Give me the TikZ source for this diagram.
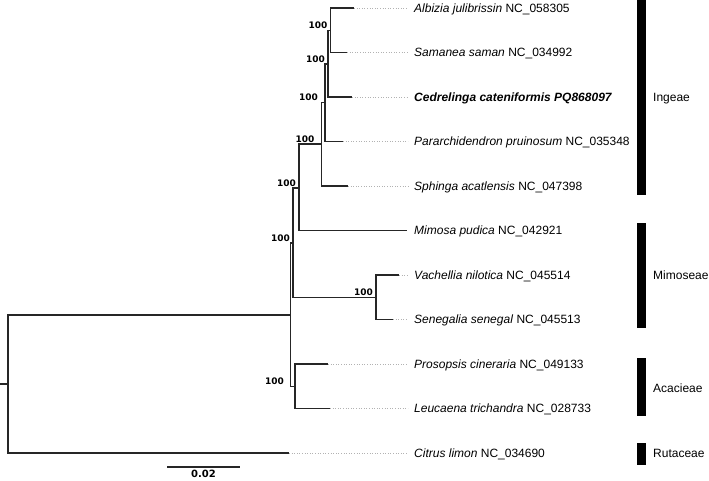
\documentclass[tikz,border=0pt]{standalone}
\usepackage{fontspec}
\setmainfont{Liberation Sans}
\newfontfamily\bootfont{DejaVu Sans}
\usepackage{tikz}

\begin{document}
\begin{tikzpicture}[x=1pt, y=-1pt, font=\fontsize{12}{14}\selectfont,
  branch/.style={draw=black!85, line width=1.3pt},
  leader/.style={draw=black!30, dotted, line width=0.6pt},
  taxon/.style={anchor=west, inner xsep=6pt, inner ysep=0pt, text height=8.6pt, text depth=0pt},
  boot/.style={anchor=south east, inner sep=0pt, xshift=-3pt, yshift=1.5pt, font=\bootfont\bfseries\fontsize{9}{10}\selectfont},
  cladebar/.style={fill=black},
  clade/.style={anchor=west, inner sep=0pt, text height=8.6pt, text depth=0pt}]
  \useasboundingbox (0,0) rectangle (709,481);

  % internal nodes
  \coordinate (stub) at (0,384);
  \coordinate (root) at (8,384);
  \coordinate (nFab) at (290.5,315);
  \coordinate (nMim) at (293,243);
  \coordinate (nIng) at (299,188);
  \coordinate (nIng4) at (321.7,144);
  \coordinate (nIng3) at (325,102.5);
  \coordinate (nIng2) at (328,64);
  \coordinate (nIng1) at (330.5,30.5);
  \coordinate (nVaSe) at (376,297.5);
  \coordinate (nAca) at (295,386.5);

  % tips
  \coordinate (tAlb) at (354,8);
  \coordinate (tSam) at (347,52.5);
  \coordinate (tCed) at (352,97);
  \coordinate (tPar) at (343,141.5);
  \coordinate (tSph) at (348,186);
  \coordinate (tMim) at (407,230.5);
  \coordinate (tVac) at (399,275);
  \coordinate (tSen) at (393,319.5);
  \coordinate (tPro) at (328,364);
  \coordinate (tLeu) at (330,408.5);
  \coordinate (tCit) at (289,453);

  % branches
  \draw[branch] (stub) -- (root);
  \draw[branch] (root) |- (nFab);
  \draw[branch] (root) |- (tCit);
  \draw[branch] (nFab) |- (nMim);
  \draw[branch] (nFab) |- (nAca);
  \draw[branch] (nMim) |- (nIng);
  \draw[branch] (nMim) |- (nVaSe);
  \draw[branch] (nIng) |- (nIng4);
  \draw[branch] (nIng) |- (tMim);
  \draw[branch] (nIng4) |- (nIng3);
  \draw[branch] (nIng4) |- (tSph);
  \draw[branch] (nIng3) |- (nIng2);
  \draw[branch] (nIng3) |- (tPar);
  \draw[branch] (nIng2) |- (nIng1);
  \draw[branch] (nIng2) |- (tCed);
  \draw[branch] (nIng1) |- (tAlb);
  \draw[branch] (nIng1) |- (tSam);
  \draw[branch] (nVaSe) |- (tVac);
  \draw[branch] (nVaSe) |- (tSen);
  \draw[branch] (nAca) |- (tPro);
  \draw[branch] (nAca) |- (tLeu);

  % support values
  \node[boot] (bIng1) at (nIng1) {100};
  \node[boot] (bIng2) at (nIng2) {100};
  \node[boot, xshift=-4pt] (bIng3) at (nIng3) {100};
  \node[boot, xshift=-4pt] (bIng4) at (nIng4) {100};
  \node[boot] (bIng) at (nIng) {100};
  \node[boot] (bMim) at (nMim) {100};
  \node[boot] (bVaSe) at (nVaSe) {100};
  \node[boot, xshift=-8pt] (bAca) at (nAca) {100};

  % taxon labels
  \node[taxon] (lAlb) at (408,8) {\textit{Albizia julibrissin} NC\_058305};
  \node[taxon] (lSam) at (408,52.5) {\textit{Samanea saman} NC\_034992};
  \node[taxon] (lCed) at (408,97) {\textbf{\textit{Cedrelinga cateniformis PQ868097}}};
  \node[taxon] (lPar) at (408,141.5) {\textit{Pararchidendron pruinosum} NC\_035348};
  \node[taxon] (lSph) at (408,186) {\textit{Sphinga acatlensis} NC\_047398};
  \node[taxon] (lMim) at (408,230.5) {\textit{Mimosa pudica} NC\_042921};
  \node[taxon] (lVac) at (408,275) {\textit{Vachellia nilotica} NC\_045514};
  \node[taxon] (lSen) at (408,319.5) {\textit{Senegalia senegal} NC\_045513};
  \node[taxon] (lPro) at (408,364) {\textit{Prosopsis cineraria} NC\_049133};
  \node[taxon] (lLeu) at (408,408.5) {\textit{Leucaena trichandra} NC\_028733};
  \node[taxon] (lCit) at (408,453) {\textit{Citrus limon} NC\_034690};

  % leaders
  \draw[leader] (tAlb) -- (lAlb.west);
  \draw[leader] (tSam) -- (lSam.west);
  \draw[leader] (tCed) -- (lCed.west);
  \draw[leader] (tPar) -- (lPar.west);
  \draw[leader] (tSph) -- (lSph.west);
  \draw[leader] (tVac) -- (lVac.west);
  \draw[leader] (tSen) -- (lSen.west);
  \draw[leader] (tPro) -- (lPro.west);
  \draw[leader] (tLeu) -- (lLeu.west);
  \draw[leader] (tCit) -- (lCit.west);

  % clade bars
  \fill[cladebar] (637,0) rectangle (646,195);
  \fill[cladebar] (637,223) rectangle (646,328);
  \fill[cladebar] (637,358) rectangle (646,416);
  \fill[cladebar] (637,443) rectangle (646,465);
  \node[clade] (cIngeae) at (653,97) {Ingeae};
  \node[clade] (cMimoseae) at (653,275) {Mimoseae};
  \node[clade] (cAcacieae) at (653,388) {Acacieae};
  \node[clade] (cRutaceae) at (653,453) {Rutaceae};

  % scale bar
  \coordinate (sbL) at (167,467);
  \coordinate (sbR) at (240,467);
  \draw[branch] (sbL) -- (sbR) node[midway, below=2.5pt, inner sep=0pt, font=\bootfont\bfseries\fontsize{10}{11}\selectfont] (sbLabel) {0.02};
\end{tikzpicture}
\end{document}
